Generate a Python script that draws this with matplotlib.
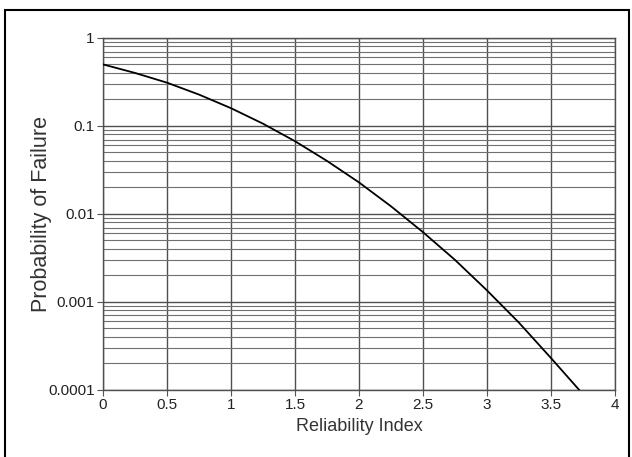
import matplotlib
matplotlib.use("Agg")
import matplotlib.pyplot as plt
from matplotlib.patches import Rectangle
from matplotlib.ticker import LogLocator, NullFormatter

# valores
beta = [0, 0.25, 0.5, 0.75, 1.0, 1.25, 1.5, 1.75, 2.0, 2.25, 2.5, 2.75, 3.0, 3.25, 3.5, 3.72]
pf = [0.50, 0.40, 0.31, 0.227, 0.159, 0.106, 0.067, 0.040, 0.0228, 0.0122,
      0.0062, 0.0030, 0.00135, 0.00058, 0.00023, 0.0001]

x_ticks = [0, 0.5, 1, 1.5, 2, 2.5, 3, 3.5, 4]
x_labels = ['0', '0.5', '1', '1.5', '2', '2.5', '3', '3.5', '4']
y_ticks = [1, 0.1, 0.01, 0.001, 0.0001]
y_labels = ['1', '0.1', '0.01', '0.001', '0.0001']

plt.rcParams['font.family'] = ['Liberation Sans', 'DejaVu Sans']

fig = plt.figure(figsize=(6.32, 4.57), dpi=100)
ax = fig.add_axes([0.163, 0.147, 0.81, 0.77])

ax.plot(beta, pf, color='black', linewidth=1.3, zorder=3)
ax.set_yscale('log')
ax.set_xlim(0, 4)
ax.set_ylim(0.0001, 1)

ax.set_xticks(x_ticks)
ax.set_xticklabels(x_labels)
ax.set_yticks(y_ticks)
ax.set_yticklabels(y_labels)
ax.yaxis.set_minor_locator(LogLocator(base=10, subs=range(2, 10)))
ax.yaxis.set_minor_formatter(NullFormatter())
ax.tick_params(axis='both', which='major', labelsize=11, length=4, color='#555555',
               labelcolor='#222222', pad=2)
ax.tick_params(axis='y', which='minor', length=0)

# grade tipo papel log
ax.grid(True, which='major', axis='both', color='#505050', linewidth=1.0)
ax.grid(True, which='minor', axis='y', color='#707070', linewidth=0.8)
for s in ax.spines.values():
    s.set_color('#505050')
    s.set_linewidth(1.0)

ax.set_xlabel("Reliability Index", fontsize=13, color='#333333', labelpad=4)
ax.set_ylabel("Probability of Failure", fontsize=15.5, color='#333333', labelpad=-3)

# moldura externa
fig.patches.append(Rectangle((0.008, -0.01), 0.987, 0.988, transform=fig.transFigure,
                             fill=False, edgecolor='black', linewidth=1.5))

fig.savefig("out.png", dpi=100)
